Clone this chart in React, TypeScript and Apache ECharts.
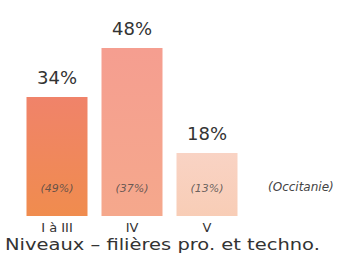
import React, { useEffect, useRef } from "react";
import * as echarts from "echarts";

const categories = ["I à III", "IV", "V"];
const values = [34, 48, 18];
const occitanie = [49, 37, 13];
const barColors = [
  ["#F0836A", "#F08C4E"],
  ["#F59E90", "#F5A88C"],
  ["#F9D3C4", "#F8CDB6"],
];
const FONT = "DejaVu Sans";

export default function App() {
  const ref = useRef<HTMLDivElement>(null);
  useEffect(() => {
    const chart = echarts.init(ref.current!, null, { renderer: "svg" });
    chart.setOption({
      animation: false,
      backgroundColor: "#fff",
      grid: { left: 19.5, right: 94.5, top: 41, bottom: 39 },
      xAxis: {
        type: "category",
        data: categories,
        axisLine: { show: false },
        axisTick: { show: false },
        axisLabel: { color: "#333", fontSize: 13, fontFamily: FONT, margin: 5 },
      },
      yAxis: { type: "value", min: 0, max: 50, show: false, splitLine: { show: false } },
      series: [
        {
          type: "bar",
          barWidth: 61,
          data: values.map((v, i) => ({
            value: v,
            itemStyle: {
              color: new echarts.graphic.LinearGradient(0, 0, 0, 1, [
                { offset: 0, color: barColors[i][0] },
                { offset: 1, color: barColors[i][1] },
              ]),
            },
          })),
          label: {
            show: true,
            position: "top",
            distance: 11,
            formatter: "{c}%",
            color: "#333",
            fontSize: 18,
            fontFamily: FONT,
          },
        },
        {
          type: "scatter",
          symbolSize: 0,
          silent: true,
          data: occitanie.map((o, i) => ({ value: [categories[i], 8], occ: o })),
          label: {
            show: true,
            position: "inside",
            formatter: (p: any) => `(${p.data.occ}%)`,
            color: "#444",
            fontSize: 11,
            fontStyle: "italic",
            fontFamily: FONT,
          },
        },
      ],
      graphic: [
        {
          type: "text",
          left: 268,
          top: 181,
          style: { text: "(Occitanie)", fill: "#444", fontSize: 12, fontStyle: "italic", fontFamily: FONT },
        },
        {
          type: "text",
          x: 5,
          y: 237,
          scaleX: 1.3,
          style: { text: "Niveaux – filières pro. et techno.", fill: "#333", fontSize: 15, fontFamily: FONT },
        },
      ],
    });
    return () => chart.dispose();
  }, []);
  return <div ref={ref} style={{ width: 339, height: 255, position: "absolute", left: 0, top: 0 }} />;
}
